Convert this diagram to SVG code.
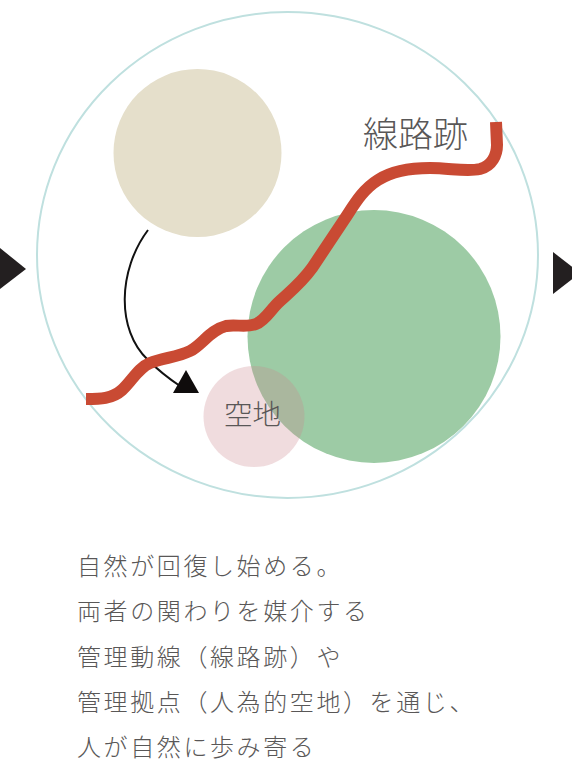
<svg xmlns="http://www.w3.org/2000/svg" width="572" height="765" viewBox="0 0 572 765">
  <style>
    .jp { font-family: "Noto Sans CJK JP", "Noto Sans CJK SC", sans-serif; font-weight: 300; fill: #595757; }
    .body { font-size: 24px; letter-spacing: 2.6px; }
    .tri { fill: #231f20; }
  </style>
  <rect width="572" height="765" fill="#ffffff"/>
  <g id="prev-arrow"><polygon class="tri" points="0,248 26,269 0,289"/></g>
  <g id="next-arrow"><polygon class="tri" points="553,252 580,273 553,294"/></g>
  <g id="boundary"><ellipse cx="287.5" cy="255" rx="250.5" ry="243" fill="none" stroke="#bfe0df" stroke-width="2"/></g>
  <g id="nature-source"><circle cx="197.5" cy="153" r="84" fill="#e5dfcb"/></g>
  <g id="nature"><circle cx="374" cy="336.5" r="126.5" fill="#9dcba5"/></g>
  <g id="open-space">
    <circle cx="254" cy="416.5" r="50.5" fill="#cc878e" fill-opacity="0.29"/>
    <text class="jp" x="224" y="425" font-size="28.5">空地</text>
  </g>
  <g id="connectors">
    <path d="M148,230 C118,270 116,330 148,360 C158,370 168,378 180,386" fill="none" stroke="#111" stroke-width="2"/>
    <polygon points="173,393 199,393 186,370" fill="#0f0c0c"/>
  </g>
  <g id="rail-trace">
    <path d="M86,399 C100,399 112,399 122,390 C132,381 138,368 150,363 C162,358 178,357 190,351 C202,345 210,330 226,326 C236,324 246,328 256,324 C266,320 270,310 280,301 C292,290 302,282 312,268 L344,220 C354,205 362,190 378,180 C392,171 408,168 430,168 C450,168 466,172 480,169 C492,166 497,155 497,145 L496,122" fill="none" stroke="#c94a33" stroke-width="12"/>
    <text class="jp" x="363" y="147" font-size="35">線路跡</text>
  </g>
  <g id="caption">
    <text class="jp body" x="77" y="575">自然が回復し始める。</text>
    <text class="jp body" x="77" y="620">両者の関わりを媒介する</text>
    <text class="jp body" x="77" y="666">管理動線（線路跡）や</text>
    <text class="jp body" x="77" y="711">管理拠点（人為的空地）を通じ、</text>
    <text class="jp body" x="77" y="756">人が自然に歩み寄る</text>
  </g>
</svg>
